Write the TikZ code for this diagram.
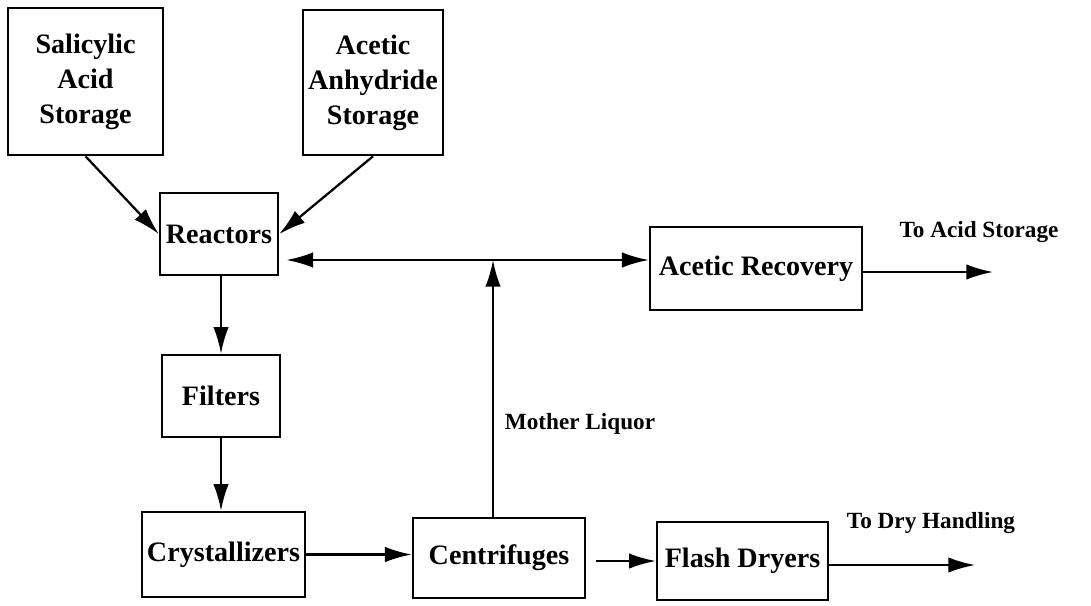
\documentclass[tikz,border=0pt]{standalone}
\usepackage{fontspec}
\setmainfont{Liberation Serif}
\usepackage{tikz}
\usetikzlibrary{arrows.meta}

\begin{document}
\begin{tikzpicture}%
  [x=0.025cm,y=-0.025cm,>={Latex[length=19pt,width=11pt]}]
  \tikzstyle{box node}=[rectangle,draw,line width=1.8pt,align=center,inner sep=2,
    font=\fontsize{20}{25}\selectfont\bfseries]
  \tikzstyle{tag node}=[font=\fontsize{16.5}{20}\selectfont\bfseries]
  \tikzstyle{flow}=[->,line width=1.6pt]
  \useasboundingbox (0,0) rectangle (1091,605);
  % storage and process units
  \node(sal)[box node,minimum width=3.875cm,minimum height=3.675cm] at (85.5,81.5)
    {Salicylic\\Acid\\Storage};
  \node(anh)[box node,minimum width=3.5cm,minimum height=3.625cm] at (373,82.5)
    {Acetic\\Anhydride\\Storage};
  \node(reac)[box node,minimum width=2.95cm,minimum height=2.05cm] at (219,234){Reactors};
  \node(filt)[box node,minimum width=2.95cm,minimum height=2.05cm] at (221,396){Filters};
  \node(cryst)[box node,minimum width=4.075cm,minimum height=2.125cm] at (223.5,554.5){Crystallizers};
  \node(cent)[box node,minimum width=4.3cm,minimum height=2cm] at (499,558){Centrifuges};
  \node(flash)[box node,minimum width=4.275cm,minimum height=1.95cm] at (742.5,561){Flash Dryers};
  \node(rec)[box node,minimum width=5.3cm,minimum height=2.075cm] at (756,268.5){Acetic Recovery};
  % outlets and labels
  \coordinate(j) at (493,260);
  \coordinate(acid) at (993,272);
  \coordinate(dry) at (975,565);
  \node(acidtag)[tag node] at (979,232){To Acid Storage};
  \node(drytag)[tag node] at (931,523){To Dry Handling};
  \node(liqtag)[tag node] at (580,424){Mother Liquor};
  % streams
  \draw[flow] (sal.south) -- (reac.west);
  \draw[flow] (anh.south) -- (reac.east);
  \draw[flow] (filt.north |- reac.south) -- (filt.north);
  \draw[flow] (filt.south) -- (filt.south |- cryst.north);
  \draw[<->,line width=1.6pt,shorten <=5pt] (reac.east |- j) -- (rec.west |- j);
  \draw[flow] (j |- cent.north) -- (j);
  \draw[flow] (cryst.east) -- (cryst.east -| cent.west);
  \draw[flow,shorten <=7pt] (cent.east |- flash.west) -- (flash.west);
  \draw[flow] (rec.east |- acid) -- (acid);
  \draw[flow] (flash.east |- dry) -- (dry);
\end{tikzpicture}
\end{document}
